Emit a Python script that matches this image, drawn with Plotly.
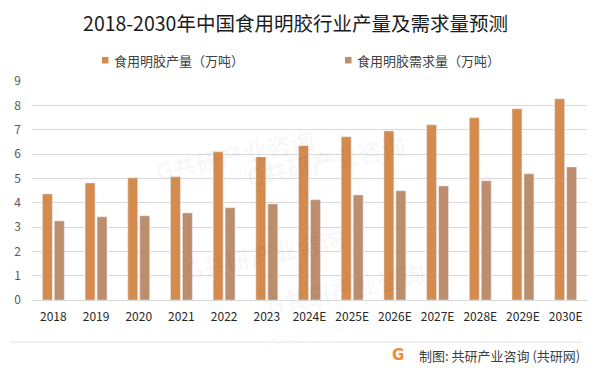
import plotly.graph_objects as go

categories = ["2018", "2019", "2020", "2021", "2022", "2023", "2024E",
              "2025E", "2026E", "2027E", "2028E", "2029E", "2030E"]
production = [4.36, 4.81, 5.02, 5.06, 6.09, 5.88, 6.34, 6.71, 6.95, 7.20, 7.49, 7.86, 8.27]
demand = [3.25, 3.42, 3.46, 3.58, 3.79, 3.95, 4.12, 4.32, 4.49, 4.69, 4.90, 5.19, 5.47]
series_names = ["食用明胶产量（万吨）", "食用明胶需求量（万吨）"]
title_text = "2018-2030年中国食用明胶行业产量及需求量预测"
source_text = "制图: 共研产业咨询 (共研网)"
y_ticks = list(range(0, 10))

W, H = 602, 374
ML, MR, MT, MB = 32, 15, 81, 74
PW, PH = W - ML - MR, H - MT - MB
C_PROD = "#D48B4E"
C_DEM = "#BC8E6D"
FONT = "Noto Sans CJK SC"


def px(x):
    return (x - ML) / PW


def py(y):
    return (H - MB - y) / PH


fig = go.Figure()
fig.add_trace(go.Bar(x=categories, y=production, name=series_names[0],
                     marker_color=C_PROD, showlegend=False))
fig.add_trace(go.Bar(x=categories, y=demand, name=series_names[1],
                     marker_color=C_DEM, showlegend=False))

annotations = []
shapes = []

# watermarks (faint), only the ones lying fully inside the picture
wm_centers = [(150, 118), (180, 290), (410, 160), (430, 325)]
for cx, cy in wm_centers:
    annotations.append(dict(x=px(cx), y=py(cy), xref="paper", yref="paper",
                            text="<b>G共研产业咨询</b>", showarrow=False, textangle=-12,
                            font=dict(family=FONT, size=24, color="rgba(0,0,0,0.035)")))
    annotations.append(dict(x=px(cx + 8), y=py(cy + 27), xref="paper", yref="paper",
                            text="w w w . g o n y n . c o m", showarrow=False, textangle=-12,
                            font=dict(family="DejaVu Sans", size=14, color="rgba(0,0,0,0.035)")))

# legend (manual)
legend_items = [(102, C_PROD, series_names[0]), (345, C_DEM, series_names[1])]
for x0, col, name in legend_items:
    shapes.append(dict(type="rect", xref="paper", yref="paper",
                       x0=px(x0), x1=px(x0 + 6.5), y0=py(63.5), y1=py(57),
                       fillcolor=col, line=dict(width=0)))
    annotations.append(dict(x=px(x0 + 10), y=py(60), xref="paper", yref="paper",
                            xanchor="left", yanchor="middle", text=name, showarrow=False,
                            font=dict(family=FONT, size=13, color="#404040")))

# separator line
shapes.append(dict(type="line", xref="paper", yref="paper",
                   x0=px(10), x1=px(582), y0=py(342), y1=py(342),
                   line=dict(color="#E3E3E3", width=1)))

# source
annotations.append(dict(x=px(582), y=py(355), xref="paper", yref="paper",
                        xanchor="right", yanchor="middle", text=source_text, showarrow=False,
                        font=dict(family=FONT, size=13, color="#404040")))
annotations.append(dict(x=px(398), y=py(355), xref="paper", yref="paper",
                        xanchor="center", yanchor="middle", text="<b>G</b>", showarrow=False,
                        font=dict(family="DejaVu Sans", size=15, color="#F08A3C")))

fig.update_layout(
    width=W, height=H,
    margin=dict(l=ML, r=MR, t=MT, b=MB),
    paper_bgcolor="white", plot_bgcolor="white",
    barmode="group", bargap=0.44, bargroupgap=0.17,
    title=dict(text=title_text, x=295.5 / W, xanchor="center",
               y=1 - 24 / H, yanchor="middle",
               font=dict(family=FONT, size=19.5, color="#1A1A1A")),
    xaxis=dict(type="category", showgrid=False, showline=False, zeroline=False,
               tickfont=dict(family=FONT, size=12, color="#262626"),
               ticks="", ticklabelstandoff=8),
    yaxis=dict(range=[0, 9], tickvals=y_ticks, showgrid=True, gridcolor="#D9D9D9",
               gridwidth=1, zeroline=True, zerolinecolor="#D9D9D9", zerolinewidth=1,
               showline=False, ticks="",
               tickfont=dict(family=FONT, size=12, color="#595959"),
               ticklabelstandoff=10),
    annotations=annotations,
    shapes=shapes,
    showlegend=False,
)

fig.write_html("out.html", config={"displayModeBar": False},
               post_script="document.body.style.margin='0';document.body.style.overflow='hidden';")
